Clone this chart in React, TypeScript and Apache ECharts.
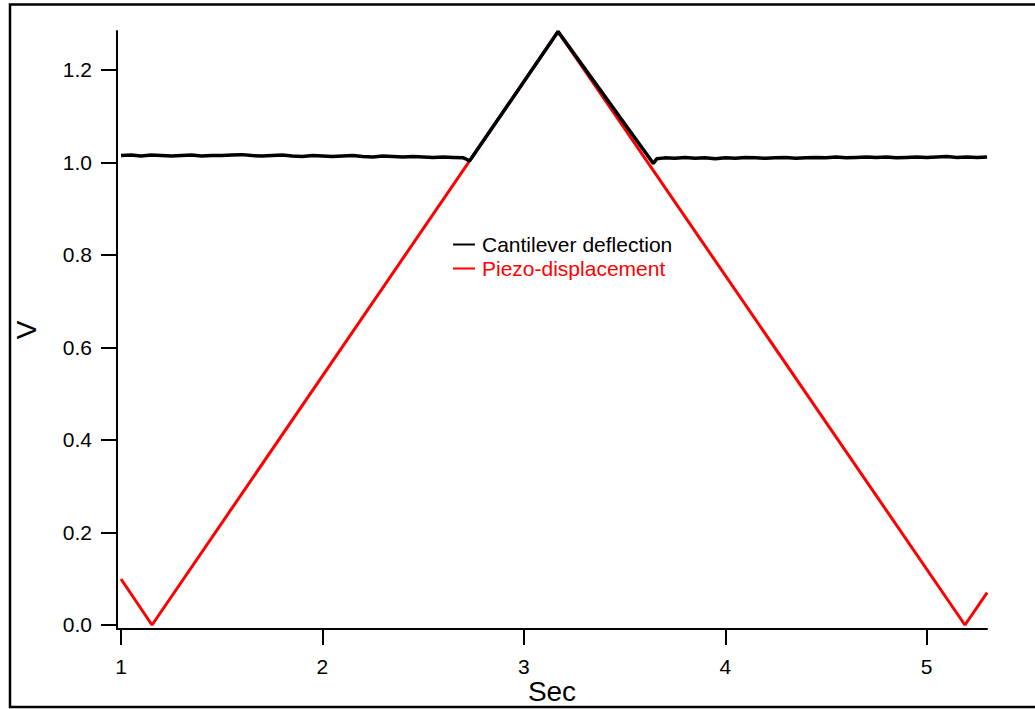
import React, { useEffect, useRef } from "react";
import * as echarts from "echarts";

// Piezo-displacement (red) vertices: time (s), voltage (V)
const piezoT = [1.0, 1.154, 3.17, 5.19, 5.3];
const piezoV = [0.0995, 0.0, 1.283, 0.0, 0.07];

// Cantilever deflection (black)
const deflT = [
  1.0, 1.05, 1.1, 1.15, 1.2, 1.25, 1.3, 1.35, 1.4, 1.45, 1.5, 1.55, 1.6, 1.65, 1.7,
  1.75, 1.8, 1.85, 1.9, 1.95, 2.0, 2.05, 2.1, 2.15, 2.2, 2.25, 2.3, 2.35, 2.4, 2.45,
  2.5, 2.55, 2.6, 2.65, 2.7, 2.715, 2.73, 3.17, 3.643, 3.66, 3.7, 3.75, 3.8, 3.85,
  3.9, 3.95, 4.0, 4.05, 4.1, 4.15, 4.2, 4.25, 4.3, 4.35, 4.4, 4.45, 4.5, 4.55, 4.6,
  4.65, 4.7, 4.75, 4.8, 4.85, 4.9, 4.95, 5.0, 5.05, 5.1, 5.15, 5.2, 5.25, 5.3,
];
const deflV = [
  1.015, 1.016, 1.014, 1.016, 1.015, 1.014, 1.015, 1.016, 1.014, 1.015, 1.015, 1.016,
  1.017, 1.015, 1.014, 1.015, 1.016, 1.014, 1.013, 1.015, 1.014, 1.013, 1.014, 1.015,
  1.013, 1.012, 1.014, 1.013, 1.012, 1.013, 1.012, 1.011, 1.012, 1.011, 1.01, 1.007,
  1.003, 1.283, 0.998, 1.008, 1.01, 1.009, 1.011, 1.009, 1.01, 1.008, 1.01, 1.009,
  1.011, 1.01, 1.009, 1.01, 1.011, 1.009, 1.01, 1.011, 1.01, 1.012, 1.01, 1.011,
  1.012, 1.011, 1.012, 1.01, 1.011, 1.012, 1.011, 1.012, 1.013, 1.011, 1.012, 1.011,
  1.012,
];

const xTicks = [1, 2, 3, 4, 5];
const yTicks = [0, 0.2, 0.4, 0.6, 0.8, 1.0, 1.2];

const FONT = "'Liberation Sans', Arial, Helvetica, sans-serif";

export default function App() {
  const ref = useRef<HTMLDivElement>(null);
  useEffect(() => {
    if (!ref.current) return;
    const chart = echarts.init(ref.current, undefined, { renderer: "svg" });
    const piezo = piezoT.map((t, i) => [t, piezoV[i]]);
    const defl = deflT.map((t, i) => [t, deflV[i]]);
    chart.setOption({
      animation: false,
      backgroundColor: "#fff",
      textStyle: { fontFamily: FONT },
      grid: {
        left: 117,
        top: 31,
        right: 48,
        bottom: 80,
        containLabel: false,
        outerBoundsMode: "none",
      },
      legend: {
        orient: "vertical",
        left: 453,
        top: 234,
        padding: 0,
        itemWidth: 22,
        itemHeight: 2,
        itemGap: 3,
        icon: "rect",
        textStyle: { fontSize: 21, lineHeight: 21, fontFamily: FONT, padding: [0, 0, 0, 2] },
        data: [
          { name: "Cantilever deflection", textStyle: { color: "#000" } },
          { name: "Piezo-displacement", textStyle: { color: "#ff0000" } },
        ],
      },
      xAxis: {
        type: "value",
        min: 0.9801,
        max: 5.2994,
        name: "Sec",
        nameLocation: "middle",
        nameGap: 48,
        nameMoveOverlap: false,
        nameTextStyle: { fontSize: 28, lineHeight: 28, color: "#000", fontFamily: FONT },
        axisLine: { show: true, onZero: false, lineStyle: { color: "#000", width: 2 } },
        axisTick: {
          show: true,
          length: 16,
          inside: false,
          customValues: xTicks,
          lineStyle: { color: "#000", width: 2 },
        },
        axisLabel: {
          customValues: xTicks,
          fontSize: 21,
          color: "#000",
          margin: 27,
          fontFamily: FONT,
          formatter: (v: number) => String(v),
        },
        splitLine: { show: false },
      },
      yAxis: {
        type: "value",
        min: -0.00865,
        max: 1.2843,
        name: "V",
        nameLocation: "middle",
        nameRotate: 90,
        nameGap: 77,
        nameMoveOverlap: false,
        nameTextStyle: { fontSize: 28, color: "#000", fontFamily: FONT },
        axisLine: { show: true, onZero: false, lineStyle: { color: "#000", width: 2 } },
        axisTick: {
          show: true,
          length: 16,
          inside: false,
          customValues: yTicks,
          lineStyle: { color: "#000", width: 2 },
        },
        axisLabel: {
          customValues: yTicks,
          fontSize: 21,
          color: "#000",
          margin: 25,
          fontFamily: FONT,
          formatter: (v: number) => v.toFixed(1),
        },
        splitLine: { show: false },
      },
      graphic: [
        {
          type: "rect",
          shape: { x: 10, y: 4.5, width: 1100, height: 702.5 },
          style: { fill: "none", stroke: "#000", lineWidth: 2.5 },
          silent: true,
          z: 100,
        },
      ],
      series: [
        {
          name: "Piezo-displacement",
          type: "line",
          data: piezo,
          showSymbol: false,
          symbol: "none",
          lineStyle: { color: "#ff0000", width: 3 },
          itemStyle: { color: "#ff0000" },
          z: 2,
        },
        {
          name: "Cantilever deflection",
          type: "line",
          data: defl,
          showSymbol: false,
          symbol: "none",
          lineStyle: { color: "#000", width: 3.5 },
          itemStyle: { color: "#000" },
          z: 3,
        },
      ],
    });
    return () => chart.dispose();
  }, []);
  return (
    <div
      ref={ref}
      style={{ position: "fixed", left: 0, top: 0, width: 1035, height: 709 }}
    />
  );
}
